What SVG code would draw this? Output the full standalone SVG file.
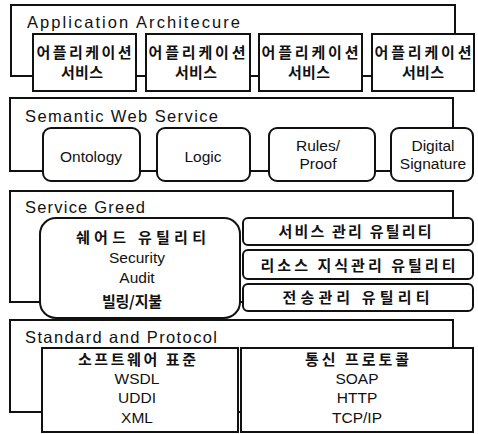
<svg xmlns="http://www.w3.org/2000/svg" width="478" height="434" viewBox="0 0 478 434">
<style>
.frame{fill:none;stroke:#111;stroke-width:2;stroke-linejoin:miter}
.box{fill:#fff;stroke:#111;stroke-width:2}
.conn{fill:none;stroke:#111;stroke-width:2}
.title{font-family:"Liberation Sans",Arial,sans-serif;font-size:16.5px;fill:#111}
.lt{font-family:"Liberation Sans",Arial,sans-serif;font-size:15.5px;fill:#111;text-anchor:middle}
.kr{font-family:"Noto Sans CJK KR","Liberation Sans",sans-serif;font-size:15px;font-weight:bold;fill:#111;text-anchor:middle}
</style>
<rect width="478" height="434" fill="#fff"/>

<g id="layer-application">
  <path class="frame" d="M455,34 V5 H11 V76 H33"/>
  <text class="title" x="27" y="28" textLength="213">Application Architecure</text>
</g>
<g id="layer-semantic">
  <path class="frame" d="M453,128 V98 H10 V171 H43"/>
  <text class="title" x="25" y="122" textLength="193">Semantic Web Service</text>
</g>
<g id="layer-grid">
  <path class="frame" d="M453,218 V191 H10 V302 H40"/>
  <text class="title" x="25" y="213" textLength="120">Service Greed</text>
</g>
<g id="layer-standard">
  <path class="frame" d="M453,348 V320 H10 V412 H42"/>
  <text class="title" x="25" y="343" textLength="192">Standard and Protocol</text>
</g>

<g id="connectors">
  <path class="conn" d="M136,76 H146 M250,76 H259 M362,76 H372"/>
  <path class="conn" d="M140,171 H157 M250,171 H269 M375,171 H391"/>
  <path class="conn" d="M240,302 H243"/>
  <path class="conn" d="M238,412 H241"/>
</g>

<g id="app-service-1">
  <rect class="box" x="33" y="34" width="103" height="57"/>
  <text class="kr" x="84" y="58" textLength="95">어플리케이션</text>
  <text class="kr" x="82" y="78" textLength="42">서비스</text>
</g>
<g id="app-service-2">
  <rect class="box" x="146" y="34" width="104" height="57"/>
  <text class="kr" x="197" y="58" textLength="97">어플리케이션</text>
  <text class="kr" x="196" y="78" textLength="42">서비스</text>
</g>
<g id="app-service-3">
  <rect class="box" x="259" y="34" width="103" height="57"/>
  <text class="kr" x="310" y="58" textLength="97">어플리케이션</text>
  <text class="kr" x="309" y="78" textLength="42">서비스</text>
</g>
<g id="app-service-4">
  <rect class="box" x="372" y="34" width="102" height="57"/>
  <text class="kr" x="423" y="58" textLength="97">어플리케이션</text>
  <text class="kr" x="423" y="78" textLength="42">서비스</text>
</g>

<g id="ontology">
  <rect class="box" x="43" y="128" width="97" height="53" rx="8"/>
  <text class="lt" x="91" y="162">Ontology</text>
</g>
<g id="logic">
  <rect class="box" x="157" y="128" width="93" height="53" rx="8"/>
  <text class="lt" x="203" y="162">Logic</text>
</g>
<g id="rules-proof">
  <rect class="box" x="269" y="128" width="106" height="53" rx="8"/>
  <text class="lt" x="318" y="151">Rules/</text>
  <text class="lt" x="318" y="169">Proof</text>
</g>
<g id="digital-signature">
  <rect class="box" x="391" y="128" width="82" height="53" rx="8"/>
  <text class="lt" x="433" y="151">Digital</text>
  <text class="lt" x="433" y="169">Signature</text>
</g>

<g id="shared-utility">
  <rect class="box" x="40" y="218" width="200" height="100" rx="16"/>
  <text class="kr" x="141" y="243" textLength="130">쉐어드 유틸리티</text>
  <text class="lt" x="137" y="263">Security</text>
  <text class="lt" x="137" y="283">Audit</text>
  <text class="kr" x="132" y="307" textLength="60">빌링/지불</text>
</g>
<g id="service-mgmt">
  <rect class="box" x="243" y="218" width="230" height="27" rx="5"/>
  <text class="kr" x="355" y="237" textLength="153">서비스 관리 유틸리티</text>
</g>
<g id="resource-mgmt">
  <rect class="box" x="243" y="250" width="230" height="29" rx="5"/>
  <text class="kr" x="358" y="271" textLength="195">리소스 지식관리 유틸리티</text>
</g>
<g id="transport-mgmt">
  <rect class="box" x="243" y="284" width="230" height="27" rx="5"/>
  <text class="kr" x="356" y="303" textLength="147">전송관리 유틸리티</text>
</g>

<g id="software-standard">
  <rect class="box" x="42" y="348" width="196" height="84"/>
  <text class="kr" x="137" y="365" textLength="118">소프트웨어 표준</text>
  <text class="lt" x="137" y="384">WSDL</text>
  <text class="lt" x="137" y="403">UDDI</text>
  <text class="lt" x="137" y="423">XML</text>
</g>
<g id="comm-protocol">
  <rect class="box" x="241" y="348" width="232" height="84"/>
  <text class="kr" x="357" y="365" textLength="104">통신 프로토콜</text>
  <text class="lt" x="357" y="384">SOAP</text>
  <text class="lt" x="357" y="403">HTTP</text>
  <text class="lt" x="357" y="423">TCP/IP</text>
</g>
</svg>
